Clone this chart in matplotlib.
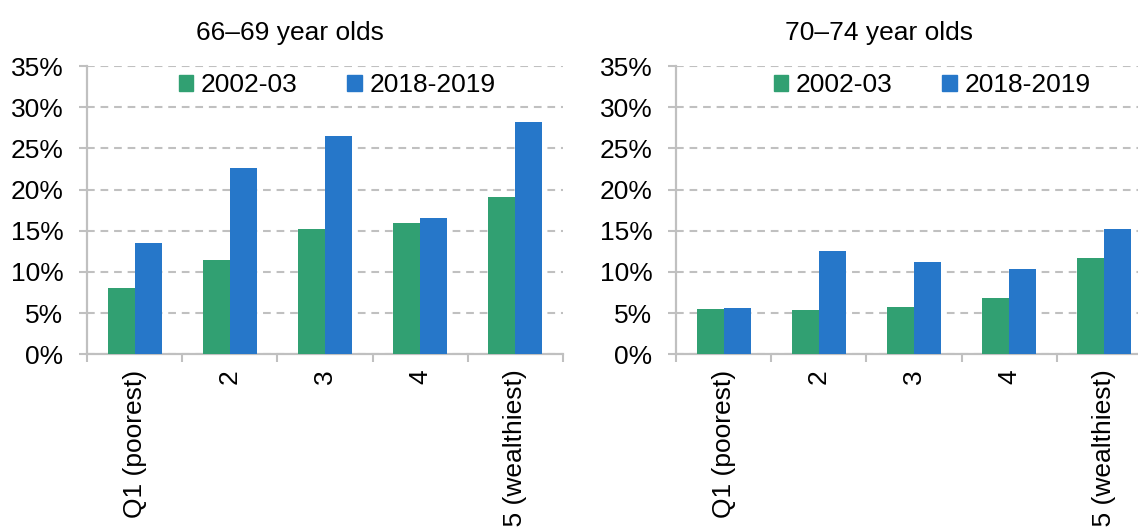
import matplotlib
matplotlib.use("Agg")
import matplotlib.pyplot as plt
from matplotlib.patches import Rectangle
import numpy as np

plt.rcParams['font.family'] = ['Liberation Sans', 'DejaVu Sans']

categories = ["Q1 (poorest)", "2", "3", "4", "Q5 (wealthiest)"]
series_names = ["2002-03", "2018-2019"]
titles = ["66\u201369 year olds", "70\u201374 year olds"]
vals_6669_2002 = [8.0, 11.5, 15.2, 16.0, 19.1]
vals_6669_2018 = [13.5, 22.6, 26.5, 16.5, 28.2]
vals_7074_2002 = [5.5, 5.4, 5.8, 6.8, 11.7]
vals_7074_2018 = [5.6, 12.6, 11.2, 10.3, 15.2]
yticks = [0, 5, 10, 15, 20, 25, 30, 35]

green = "#31A072"
blue = "#2677C9"
gray = "#C0C0C0"
FS = 19

W, H = 1138, 527
fig = plt.figure(figsize=(W / 100, H / 100), dpi=100)

panels = [
    (87, titles[0], vals_6669_2002, vals_6669_2018, 290, 337),
    (676, titles[1], vals_7074_2002, vals_7074_2018, 879, 932),
]
bottom_px, top_px = 354.3, 66.0
for left_px, title, a, b, title_x, leg_x in panels:
    ax = fig.add_axes([left_px / W, (H - bottom_px) / H, 476 / W, (bottom_px - top_px) / H])
    x = np.arange(len(categories)) + 0.5
    w = 0.284
    ax.bar(x - w / 2, a, width=w, color=green, label=series_names[0], zorder=3)
    ax.bar(x + w / 2, b, width=w, color=blue, label=series_names[1], zorder=3)
    ax.set_xlim(0, len(categories))
    ax.set_ylim(0, 35)
    ax.set_yticks(yticks)
    ax.set_yticklabels([f"{t}%" for t in yticks], fontsize=FS)
    ax.set_xticks(x)
    ax.set_xticklabels(categories, rotation=90, fontsize=FS, va='top', ha='center')
    ax.set_xticks(np.arange(len(categories) + 1), minor=True)
    ax.tick_params(axis='x', which='major', length=0, pad=11)
    ax.tick_params(axis='x', which='minor', length=6, width=1.5, color=gray, direction='out')
    ax.tick_params(axis='y', which='major', length=6, width=1.5, color=gray, pad=11)
    for s in ['top', 'right']:
        ax.spines[s].set_visible(False)
    for s in ['left', 'bottom']:
        ax.spines[s].set_color(gray)
        ax.spines[s].set_linewidth(1.6)
    ax.yaxis.grid(True, color=gray, linewidth=1.5, linestyle=(0, (3.7, 2.8)), zorder=0)
    ax.set_axisbelow(True)
    handles = [Rectangle((0, 0), 1, 1, color=green), Rectangle((0, 0), 1, 1, color=blue)]
    fig.legend(handles, series_names, loc='center', ncol=2,
               bbox_to_anchor=(leg_x / W, 1 - 85 / H), bbox_transform=fig.transFigure,
               frameon=False, fontsize=FS, handlelength=0.55, handleheight=0.55,
               handletextpad=0.28, columnspacing=1.9, borderpad=0, borderaxespad=0)
    fig.text(title_x / W, 1 - 33 / H, title, ha='center', va='center', fontsize=FS)

fig.savefig("out.png", dpi=100)
